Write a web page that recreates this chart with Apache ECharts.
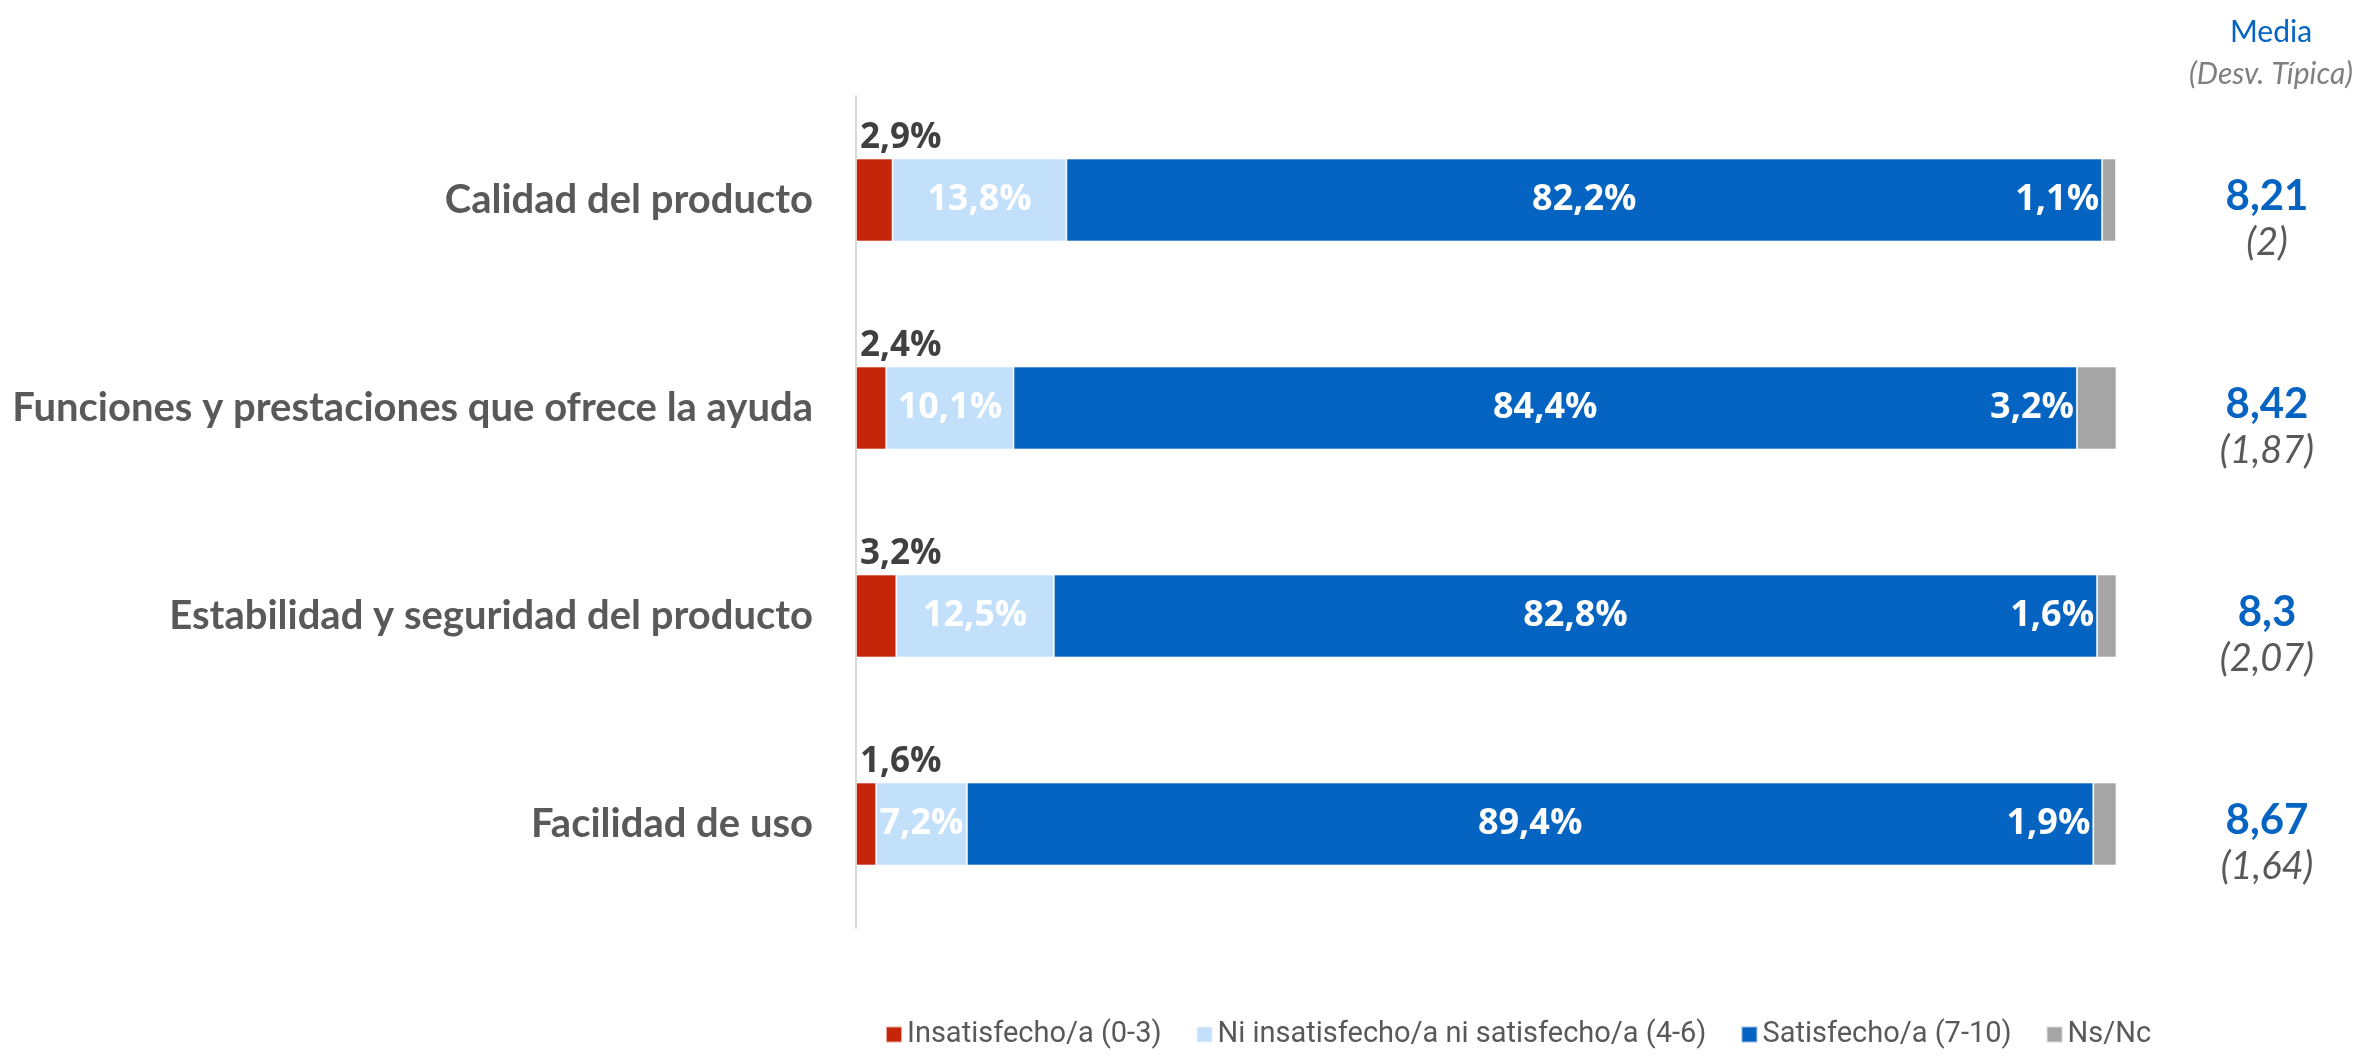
<!DOCTYPE html>
<html><head><meta charset="utf-8">
<script src="https://cdn.jsdelivr.net/npm/echarts@6/dist/echarts.min.js"></script>
<style>html,body{margin:0;padding:0;background:#fff}#c{width:2354px;height:1060px}</style>
</head><body><div id="c"></div>
<script>
const categories = ['Calidad del producto','Funciones y prestaciones que ofrece la ayuda','Estabilidad y seguridad del producto','Facilidad de uso'];
const insatisfecho = [2.9, 2.4, 3.2, 1.6];
const neutral = [13.8, 10.1, 12.5, 7.2];
const satisfecho = [82.2, 84.4, 82.8, 89.4];
const nsnc = [1.1, 3.2, 1.6, 1.9];
const means = ['8,21','8,42','8,3','8,67'];
const sds = ['2','1,87','2,07','1,64'];
const seriesNames = ['Insatisfecho/a (0-3)','Ni insatisfecho/a ni satisfecho/a (4-6)','Satisfecho/a (7-10)','Ns/Nc'];
const colors = ['#C5260A','#C3E0FB','#0563C1','#A5A5A5'];

const fmt = v => v.toFixed(1).replace('.', ',') + '%';
const labelFont = 'Open Sans';
const chart = echarts.init(document.getElementById('c'));
const barW = 83;
function mk(i, data, label) {
  return {name: seriesNames[i], type:'bar', stack:'s', data: data, barWidth: barW,
    itemStyle:{color: colors[i], borderColor:'rgba(255,255,255,0.6)', borderWidth:1},
    label: label, emphasis:{disabled:true}};
}
chart.setOption({
  animation:false,
  color: colors,
  title: {text:'Media', subtext:'(Desv. Típica)', left: 2266, top: 12, textAlign:'center', itemGap: 12,
    textStyle:{color:'#0563C1', fontFamily:'Lato', fontSize:30, fontWeight:'normal'},
    subtextStyle:{color:'#7F7F7F', fontFamily:'Lato', fontSize:30, fontStyle:'italic'}},
  legend: {bottom: 6, left: 880, itemWidth: 16, itemHeight: 16, itemGap: 34, icon:'rect',
    textStyle:{color:'#595959', fontSize:29, fontFamily:'Roboto'},
    data: seriesNames},
  grid: {left: 856, right: 238, top: 96, bottom: 132, containLabel:false},
  xAxis: {type:'value', min:0, max:100, show:false},
  yAxis: [
    {type:'category', data: categories, inverse:true,
     axisLine:{show:true, lineStyle:{color:'#D9D9D9', width:2}}, axisTick:{show:false},
     axisLabel:{color:'#595959', fontWeight:'bold', fontSize:40, fontFamily:'Lato', margin:43}},
    {type:'category', data: categories, inverse:true, position:'right',
     axisLine:{show:false}, axisTick:{show:false},
     axisLabel:{margin:151, align:'center',
       formatter:(v, i) => '{g|}\n{m|' + means[i] + '}\n{s|(' + sds[i] + ')}',
       rich:{g:{lineHeight:40, fontSize:10},
             m:{color:'#0563C1', fontWeight:'bold', fontSize:42, fontFamily:'Lato', lineHeight:46},
             s:{color:'#595959', fontStyle:'italic', fontSize:38, fontFamily:'Lato', lineHeight:48}}}}
  ],
  series: [
    mk(0, insatisfecho, {show:true, position:[4,-3], align:'left', verticalAlign:'bottom', color:'#404040', fontWeight:'bold', fontSize:35, fontFamily:labelFont, formatter:p=>fmt(p.value)}),
    mk(1, neutral, {show:true, position:'inside', color:'#fff', fontWeight:'bold', fontSize:36, fontFamily:labelFont, formatter:p=>fmt(p.value)}),
    mk(2, satisfecho, {show:true, position:'inside', color:'#fff', fontWeight:'bold', fontSize:36, fontFamily:labelFont, formatter:p=>fmt(p.value)}),
    mk(3, nsnc, {show:true, position:'left', distance:3, color:'#fff', fontWeight:'bold', fontSize:36, fontFamily:labelFont, formatter:p=>fmt(p.value)})
  ]
});
</script></body></html>
